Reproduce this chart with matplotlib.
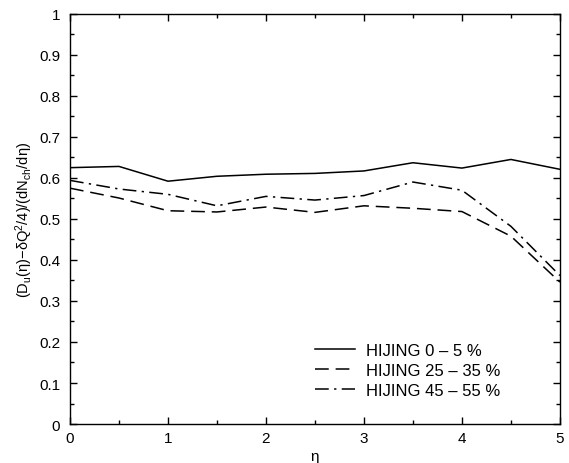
import matplotlib
matplotlib.use("Agg")
import matplotlib.pyplot as plt
import matplotlib.ticker as mt

plt.rcParams['font.family'] = ['Liberation Sans', 'DejaVu Sans']
plt.rcParams['mathtext.fontset'] = 'custom'
plt.rcParams['mathtext.rm'] = 'Liberation Sans'
plt.rcParams['mathtext.it'] = 'Liberation Sans'

eta = [0, 0.5, 1, 1.5, 2, 2.5, 3, 3.5, 4, 4.5, 5]
hij_0_5 = [0.625, 0.628, 0.592, 0.604, 0.609, 0.611, 0.617, 0.637, 0.624, 0.645, 0.621]
hij_25_35 = [0.575, 0.551, 0.520, 0.517, 0.529, 0.516, 0.532, 0.526, 0.518, 0.458, 0.346]
hij_45_55 = [0.594, 0.573, 0.560, 0.532, 0.555, 0.546, 0.557, 0.590, 0.570, 0.482, 0.362]
labels = ["HIJING 0 \u2013 5 %", "HIJING 25 \u2013 35 %", "HIJING 45 \u2013 55 %"]

fig = plt.figure(figsize=(5.69, 4.64), dpi=100)
ax = fig.add_axes([0.123, 0.084, 0.861, 0.884])
ax.plot(eta, hij_0_5, color='black', lw=1.1, ls='-', label=labels[0])
ax.plot(eta, hij_25_35, color='black', lw=1.1, ls=(0, (9, 4.5)), label=labels[1])
ax.plot(eta, hij_45_55, color='black', lw=1.1, ls=(0, (9, 3.5, 1.5, 3.5)), label=labels[2])

ax.set_xlim(0, 5)
ax.set_ylim(0, 1)
ax.xaxis.set_major_locator(mt.MultipleLocator(1))
ax.xaxis.set_minor_locator(mt.MultipleLocator(0.5))
ax.yaxis.set_major_locator(mt.MultipleLocator(0.1))
ax.yaxis.set_minor_locator(mt.MultipleLocator(0.05))
ax.tick_params(which='both', direction='in', top=True, right=True, labelsize=11, width=1.0)
ax.tick_params(which='major', length=5)
ax.tick_params(which='minor', length=3)
ax.tick_params(axis='y', pad=7)
ax.tick_params(axis='x', pad=5)
ax.yaxis.set_major_formatter(mt.FuncFormatter(lambda v, p: f"{round(v, 2):g}"))
ax.xaxis.set_major_formatter(mt.FuncFormatter(lambda v, p: f"{int(round(v))}"))
for s in ax.spines.values():
    s.set_linewidth(1.0)

ax.set_xlabel("\u03b7", fontsize=11, labelpad=3)
ax.set_ylabel("(D$_{\\mathrm{u}}$(\u03b7)\u2212\u03b4Q$^{2}$/4)/(dN$_{\\mathrm{ch}}$/d\u03b7)", fontsize=10.5, labelpad=3)

ax.legend(loc='upper left', bbox_to_anchor=(315 / 569, 1 - 344 / 464), bbox_transform=fig.transFigure,
          frameon=False, fontsize=12, borderpad=0, borderaxespad=0,
          handlelength=2.4, handletextpad=0.65, labelspacing=0.3)

fig.savefig("out.png", dpi=100)
